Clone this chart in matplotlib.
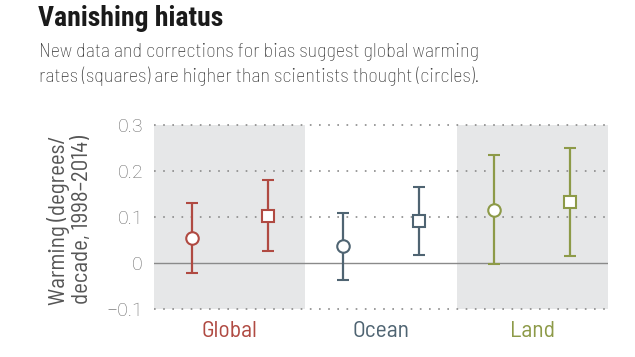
import matplotlib
matplotlib.use("Agg")
import matplotlib.pyplot as plt
from matplotlib import font_manager as fm

categories = ["Global", "Ocean", "Land"]
colors = ["#b04a42", "#4f6472", "#8d9a48"]
# old estimates (circles)
old_val = [0.054, 0.037, 0.115]
old_lo = [-0.023, -0.038, -0.002]
old_hi = [0.129, 0.109, 0.233]
# new estimates (squares)
new_val = [0.102, 0.091, 0.132]
new_lo = [0.026, 0.017, 0.015]
new_hi = [0.179, 0.165, 0.249]
yticks = [-0.1, 0, 0.1, 0.2, 0.3]
ytick_labels = ["\u22120.1", "0", "0.1", "0.2", "0.3"]

names = {f.name for f in fm.fontManager.ttflist}


def pick(options):
    for o in options:
        if o in names:
            return o
    return "DejaVu Sans"


title_font = pick(["Roboto Condensed", "Archivo Narrow", "Asap Condensed", "Fira Sans Condensed"])
sub_font = pick(["Barlow Semi Condensed", "Fira Sans Condensed", "Roboto"])
body_font = pick(["Roboto"])

fig = plt.figure(figsize=(6.35, 3.57), dpi=100)
ax = fig.add_axes([154/635, 1-309/357, (608-154)/635, (309-124.5)/357])
ax.set_xlim(0, 3)
ax.set_ylim(-0.1, 0.3)

for i in (0, 2):
    ax.axvspan(i, i+1, color="#e6e7e8", zorder=0, lw=0)

for y in yticks:
    if y == 0:
        ax.axhline(0, color="#8a8a8a", lw=1.0, zorder=1)
    else:
        ax.axhline(y, color="#8a8a8a", lw=1.2, linestyle=(0, (1, 4.5)), zorder=1, clip_on=False)

for i, c in enumerate(categories):
    col = colors[i]
    x0 = i + 0.25
    x1 = i + 0.75
    ax.errorbar([x0], [old_val[i]],
                yerr=[[old_val[i]-old_lo[i]], [old_hi[i]-old_val[i]]],
                fmt="o", ms=9, mfc="white", mec=col, mew=1.5,
                ecolor=col, elinewidth=1.6, capsize=4.5, capthick=1.6, zorder=3)
    ax.errorbar([x1], [new_val[i]],
                yerr=[[new_val[i]-new_lo[i]], [new_hi[i]-new_val[i]]],
                fmt="s", ms=9, mfc="white", mec=col, mew=1.5,
                ecolor=col, elinewidth=1.6, capsize=4.5, capthick=1.6, zorder=3)
    ax.text(i+0.5, -0.149, c, ha="center", va="center", color=col,
            fontsize=17, family=sub_font)

for s in ax.spines.values():
    s.set_visible(False)
ax.set_xticks([])
ax.set_yticks(yticks)
ax.set_yticklabels(ytick_labels, family=body_font, fontsize=14, color="#6b6b6b", fontweight="light")
ax.tick_params(axis="y", length=0, pad=8)

fig.text(70/635, 1-220/357, "Warming (degrees/\ndecade, 1998\u20132014)", rotation=90,
         ha="center", va="center", fontsize=16.5, color="#555555", family=sub_font,
         linespacing=1.15)

fig.text(38/635, 1-18/357, "Vanishing hiatus", ha="left", va="center",
         fontsize=20, fontweight="bold", family=title_font, color="#1a1a1a")
fig.text(39/635, 1-52/357, "New data and corrections for bias suggest global warming", ha="left",
         va="center", fontsize=14.6, family=sub_font, fontweight="light", color="#333333")
fig.text(39/635, 1-76/357, "rates (squares) are higher than scientists thought (circles).", ha="left",
         va="center", fontsize=14.6, family=sub_font, fontweight="light", color="#333333")

fig.savefig("out.png", dpi=100)
